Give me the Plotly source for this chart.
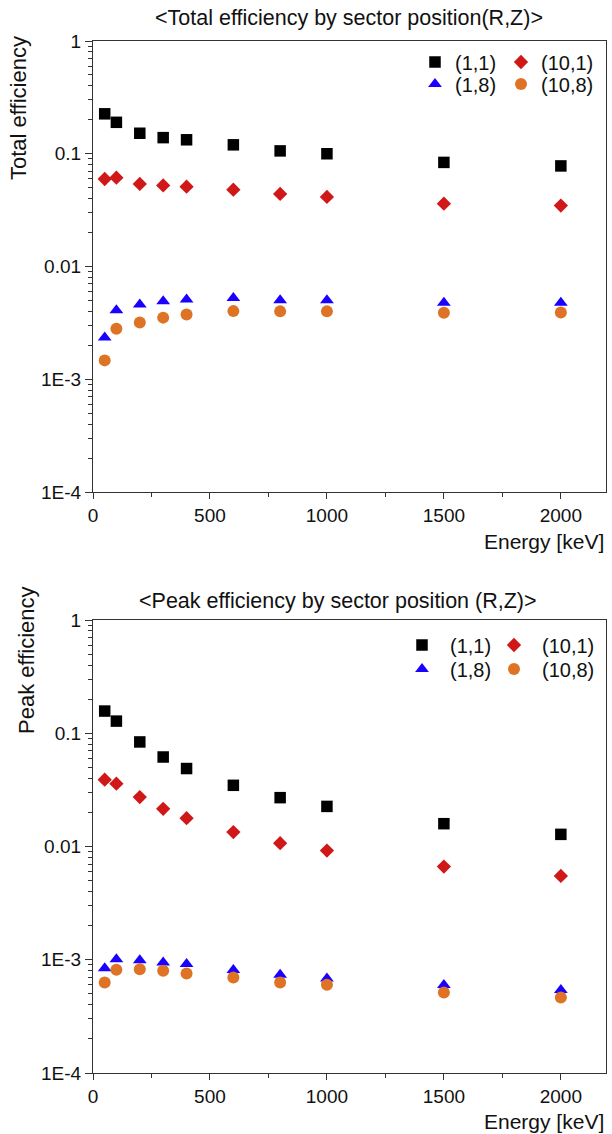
import plotly.graph_objects as go

energy = [50, 100, 200, 300, 400, 600, 800, 1000, 1500, 2000]

# Total efficiency
tot_1_1 = [0.226, 0.190, 0.152, 0.139, 0.133, 0.120, 0.106, 0.100, 0.0838, 0.078]
tot_10_1 = [0.0597, 0.0614, 0.054, 0.0524, 0.051, 0.048, 0.044, 0.0414, 0.0361, 0.0347]
tot_1_8 = [0.00234, 0.0041, 0.00461, 0.00493, 0.0051, 0.00525, 0.00503, 0.00503, 0.00477, 0.00477]
tot_10_8 = [0.00147, 0.00281, 0.00318, 0.00352, 0.00376, 0.00402, 0.0040, 0.0040, 0.00389, 0.0039]

# Peak efficiency
pk_1_1 = [0.157, 0.128, 0.0838, 0.0617, 0.0488, 0.0347, 0.027, 0.0226, 0.0159, 0.0128]
pk_10_1 = [0.0389, 0.0359, 0.0273, 0.0215, 0.0178, 0.0134, 0.0107, 0.0092, 0.00665, 0.0055]
pk_1_8 = [0.00084, 0.00101, 0.00099, 0.000946, 0.000916, 0.00081, 0.000736, 0.000683, 0.000597, 0.00054]
pk_10_8 = [0.00063, 0.000816, 0.000826, 0.0008, 0.000757, 0.000697, 0.00063, 0.000601, 0.000514, 0.000464]

series_names = ["(1,1)", "(10,1)", "(1,8)", "(10,8)"]
y_tickvals = [1e-4, 1e-3, 1e-2, 1e-1, 1]
y_ticktext = ["1E-4", "1E-3", "0.01", "0.1", "1"]
x_tickvals = [0, 500, 1000, 1500, 2000]

FONT = "Liberation Sans, Arial, sans-serif"
styles = [
    dict(symbol="square", size=11.5, color="#000000"),
    dict(symbol="diamond", size=11, color="#D01818"),
    dict(symbol="triangle-up", size=12, color="#1A00FF"),
    dict(symbol="circle", size=12, color="#DE7326"),
]

W, H = 612, 1134

def legend(xpx, ypx, itemwidth=30):
    return dict(
        x=xpx / W, y=1 - ypx / H, xanchor="left", yanchor="middle",
        orientation="v", bgcolor="rgba(0,0,0,0)", borderwidth=0,
        font=dict(family=FONT, size=20, color="#111"),
        tracegroupgap=0, itemclick=False, itemwidth=itemwidth,
    )

# one legend box per legend entry so rows/columns sit where the reference has them
legend_boxes = {
    "legend": legend(415, 62), "legend2": legend(501, 62),
    "legend3": legend(415, 84), "legend4": legend(501, 84),
    "legend5": legend(394, 645, 46), "legend6": legend(486, 645, 46),
    "legend7": legend(394, 669, 46), "legend8": legend(486, 669, 46),
}
leg_names = list(legend_boxes.keys())

fig = go.Figure()
panels = [
    ("x", "y", [tot_1_1, tot_10_1, tot_1_8, tot_10_8], leg_names[:4]),
    ("x2", "y2", [pk_1_1, pk_10_1, pk_1_8, pk_10_8], leg_names[4:]),
]
for xa, ya, data, legs in panels:
    for i, (name, vals, st) in enumerate(zip(series_names, data, styles)):
        fig.add_trace(go.Scatter(
            x=energy, y=vals, mode="markers", name=name,
            xaxis=xa, yaxis=ya, legend=legs[i],
            marker=dict(symbol=st["symbol"], size=st["size"], color=st["color"],
                        line=dict(width=0)),
        ))

x_dom = [93 / W, 606 / W]
top_dom = [1 - 492 / H, 1 - 41 / H]
bot_dom = [1 - 1073 / H, 1 - 620 / H]

minor_vals = []
for d in [1e-4, 1e-3, 1e-2, 1e-1]:
    for k in range(2, 10):
        minor_vals.append(d * k)

TICK_FONT = dict(family=FONT, size=19, color="#111")

def xaxis(anchor, domain):
    return dict(
        domain=domain, anchor=anchor, range=[0, 2193],
        tickvals=x_tickvals, ticks="outside", ticklen=6, tickwidth=1, tickcolor="#333",
        minor=dict(tickvals=[250, 750, 1250, 1750], ticks="outside", ticklen=4,
                   tickcolor="#333", showgrid=False),
        showline=True, linecolor="#333", linewidth=1.2, mirror=True,
        showgrid=False, zeroline=False, tickfont=TICK_FONT,
    )

def yaxis(anchor, domain):
    return dict(
        domain=domain, anchor=anchor, type="log", range=[-4, 0],
        tickvals=y_tickvals, ticktext=y_ticktext,
        ticks="outside", ticklen=7, tickwidth=1, tickcolor="#333",
        minor=dict(tickvals=minor_vals, ticks="outside", ticklen=4,
                   tickcolor="#333", showgrid=False),
        showline=True, linecolor="#333", linewidth=1.2, mirror=True,
        showgrid=False, zeroline=False, tickfont=TICK_FONT,
    )

title_font = dict(family=FONT, size=21.5, color="#111")
ytitle_font = dict(family=FONT, size=22, color="#111")
xtitle_font = dict(family=FONT, size=21, color="#111")

def ann(text, xpx, ypx, font, xanchor="center", angle=0):
    return dict(text=text, x=xpx / W, y=1 - ypx / H, xref="paper", yref="paper",
                xanchor=xanchor, yanchor="middle", textangle=angle,
                showarrow=False, font=font)

annotations = [
    ann("&lt;Total efficiency by sector position(R,Z)&gt;", 349, 18, title_font),
    ann("&lt;Peak efficiency by sector position (R,Z)&gt;", 338, 601, title_font),
    ann("Total efficiency", 18, 108, ytitle_font, angle=-90),
    ann("Peak efficiency", 26, 660, ytitle_font, angle=-90),
    ann("Energy [keV]", 606, 541, xtitle_font, xanchor="right"),
    ann("Energy [keV]", 606, 1121, xtitle_font, xanchor="right"),
]

fig.update_layout(
    width=W, height=H, autosize=False,
    margin=dict(l=0, r=0, t=0, b=0, autoexpand=False),
    paper_bgcolor="white", plot_bgcolor="white",
    xaxis=xaxis("y", x_dom), yaxis=yaxis("x", top_dom),
    xaxis2=xaxis("y2", x_dom), yaxis2=yaxis("x2", bot_dom),
    annotations=annotations,
    showlegend=True,
    **legend_boxes,
)

fig.write_html(
    "out.html",
    config={"displayModeBar": False},
    post_script="document.body.style.margin='0';document.body.style.overflow='hidden';",
)
